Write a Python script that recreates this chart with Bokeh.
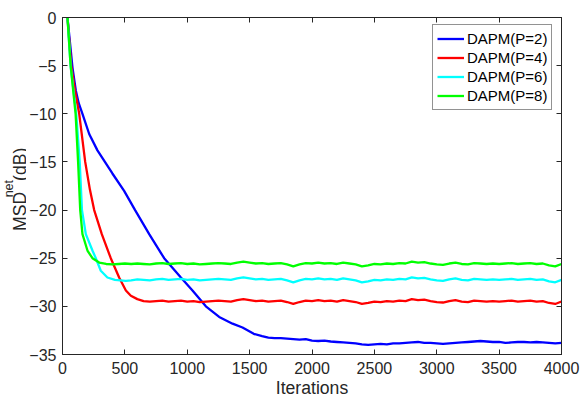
from bokeh.plotting import figure
from bokeh.layouts import row
from bokeh.models import Range1d, LinearAxis, FixedTicker, Label, CustomJSTickFormatter
from bokeh.embed import file_html
from bokeh.resources import INLINE
import math

# ---------------- data ----------------
series_names = ["DAPM(P=2)", "DAPM(P=4)", "DAPM(P=6)", "DAPM(P=8)"]
series_colors = ["#0000ff", "#ff0000", "#00ffff", "#00ff00"]

x_ticks = [0, 500, 1000, 1500, 2000, 2500, 3000, 3500, 4000]
y_ticks = [-35, -30, -25, -20, -15, -10, -5, 0]

tail_iters_600 = list(range(600, 4001, 50))
tail_iters_700 = list(range(700, 4001, 50))
tail_iters_1700 = list(range(1700, 4001, 50))

# P=2 (blue)
p2_x = [0, 40, 80, 107, 130, 160, 214, 280, 340, 400, 494, 582, 695, 815, 949,
        1042, 1149, 1256, 1363, 1443, 1533, 1600, 1650] + tail_iters_1700
p2_y = [4.5, 0, -5.2, -7.6, -8.9, -10, -12.1, -13.8, -15.0, -16.2, -18.0, -20, -22.5, -25, -27,
        -28.35, -30, -31.1, -31.8, -32.2, -32.85, -33.1, -33.25,
        -33.3, -33.3, -33.35, -33.4, -33.45, -33.4, -33.55, -33.6, -33.55, -33.65,
        -33.7, -33.75, -33.8, -33.85, -33.95, -34.0, -33.95, -33.9, -33.95, -33.85,
        -33.85, -33.8, -33.75, -33.7, -33.8, -33.8, -33.85, -33.9, -33.85, -33.8,
        -33.75, -33.7, -33.65, -33.6, -33.65, -33.7, -33.7, -33.8, -33.75, -33.7,
        -33.7, -33.75, -33.7, -33.75, -33.8, -33.85, -33.8]

# P=4 (red)
p4_x = [0, 40, 70, 100, 134, 182, 220, 254, 315, 387, 454, 508, 548, 600, 650] + tail_iters_700
p4_y = [4.5, 0, -5, -7.6, -10, -15, -17.9, -20, -22.5, -25, -27, -28.35, -28.9, -29.25, -29.45,
        -29.5, -29.45, -29.4, -29.5, -29.45, -29.4, -29.5, -29.45, -29.55, -29.5,
        -29.45, -29.4, -29.45, -29.5, -29.35, -29.25, -29.35, -29.45, -29.4, -29.5,
        -29.45, -29.4, -29.55, -29.75, -29.55, -29.4, -29.45, -29.35, -29.45, -29.4,
        -29.5, -29.35, -29.45, -29.55, -29.75, -29.65, -29.5, -29.55, -29.45, -29.5,
        -29.4, -29.45, -29.25, -29.35, -29.3, -29.45, -29.55, -29.6, -29.45, -29.35,
        -29.5, -29.55, -29.4, -29.45, -29.5, -29.45, -29.5, -29.45, -29.4, -29.5,
        -29.45, -29.4, -29.5, -29.45, -29.65, -29.75, -29.5]

# P=6 (cyan)
p6_x = [0, 40, 65, 110, 138, 156, 187, 240, 267, 307, 360, 420, 508, 550] + tail_iters_600
p6_y = [4.5, 0, -5, -10, -15, -20, -22.5, -24.2, -25.0, -26.3, -27.0, -27.25, -27.35, -27.3,
        -27.2, -27.25, -27.3, -27.2, -27.15, -27.25, -27.2, -27.15, -27.25, -27.2,
        -27.3, -27.25, -27.2, -27.15, -27.2, -27.25, -27.1, -27.0, -27.1, -27.2,
        -27.15, -27.25, -27.2, -27.15, -27.3, -27.5, -27.3, -27.15, -27.2, -27.1,
        -27.2, -27.15, -27.25, -27.1, -27.2, -27.3, -27.5, -27.4, -27.25, -27.3,
        -27.2, -27.25, -27.15, -27.2, -27.0, -27.1, -27.05, -27.2, -27.3, -27.35,
        -27.2, -27.1, -27.25, -27.3, -27.15, -27.2, -27.25, -27.2, -27.25, -27.2,
        -27.15, -27.25, -27.2, -27.15, -27.25, -27.2, -27.4, -27.5, -27.25]

# P=8 (green)
p8_x = [0, 40, 65, 105, 125, 142, 160, 200, 240, 294, 350, 400, 450, 500, 550] + tail_iters_600
p8_y = [4.5, 0, -5, -10, -15, -20, -22.5, -24.2, -25.0, -25.45, -25.6, -25.65, -25.6, -25.55, -25.6,
        -25.55, -25.6, -25.65, -25.55, -25.5, -25.6, -25.55, -25.5, -25.6, -25.55,
        -25.65, -25.6, -25.55, -25.5, -25.55, -25.6, -25.45, -25.35, -25.45, -25.55,
        -25.5, -25.6, -25.55, -25.5, -25.65, -25.85, -25.65, -25.5, -25.55, -25.45,
        -25.55, -25.5, -25.6, -25.45, -25.55, -25.65, -25.85, -25.75, -25.6, -25.65,
        -25.55, -25.6, -25.5, -25.55, -25.35, -25.45, -25.4, -25.55, -25.65, -25.7,
        -25.55, -25.45, -25.6, -25.65, -25.5, -25.55, -25.6, -25.55, -25.6, -25.55,
        -25.5, -25.6, -25.55, -25.5, -25.6, -25.55, -25.75, -25.85, -25.6]

series_x = [p2_x, p4_x, p6_x, p8_x]
series_y = [p2_y, p4_y, p6_y, p8_y]

x_title = "Iterations"
y_title_parts = ["MSD", "net", "(dB)"]

# ---------------- styling ----------------
FONT = "Liberation Sans"
INK = "#262626"
LABEL_W = 26
H = 401

# --- strip holding the rotated y title (MSD^net(dB)) ---
lab = figure(width=LABEL_W, height=H, output_backend="svg", toolbar_location=None,
             x_range=Range1d(0, LABEL_W), y_range=Range1d(0, H),
             x_axis_type=None, y_axis_type=None, min_border=0)
lab.grid.visible = False
lab.outline_line_color = None
lab.background_fill_color = "white"
lab.border_fill_color = "white"
# anchor positions of each rotated text piece, in strip pixels (y counted from bottom)
lab.add_layout(Label(x=9.1, y=H - 254, text=y_title_parts[0], angle=math.pi / 2,
                     text_align="left", text_baseline="top", text_font=FONT,
                     text_font_size="17.6px", text_color=INK))
lab.add_layout(Label(x=1.7, y=H - 214, text=y_title_parts[1], angle=math.pi / 2,
                     text_align="left", text_baseline="top", text_font=FONT,
                     text_font_size="12.5px", text_color=INK))
lab.add_layout(Label(x=9.1, y=H - 194.5, text=y_title_parts[2], angle=math.pi / 2,
                     text_align="left", text_baseline="top", text_font=FONT,
                     text_font_size="17.6px", text_color=INK))

# --- main plot ---
p = figure(width=581 - LABEL_W, height=H, output_backend="svg", toolbar_location=None,
           x_range=Range1d(0, 4000), y_range=Range1d(-35, 0),
           min_border_left=62 - LABEL_W, min_border_right=20, min_border_top=17,
           min_border_bottom=47)
p.background_fill_color = "white"
p.border_fill_color = "white"
p.grid.visible = False
p.outline_line_color = INK
p.outline_line_width = 1

for ax in (p.xaxis[0], p.yaxis[0]):
    ax.major_tick_in = 5
    ax.major_tick_out = 0
    ax.minor_tick_line_color = None
    ax.axis_line_color = INK
    ax.major_tick_line_color = INK
    ax.major_label_text_font = FONT
    ax.major_label_text_font_size = "16px"
    ax.major_label_text_color = INK
p.xaxis[0].ticker = FixedTicker(ticks=x_ticks)
p.yaxis[0].ticker = FixedTicker(ticks=y_ticks)
p.xaxis[0].major_label_standoff = 7
p.yaxis[0].major_label_standoff = 6
p.xaxis[0].axis_label = x_title
p.xaxis[0].axis_label_standoff = 1
p.xaxis[0].axis_label_text_font = FONT
p.xaxis[0].axis_label_text_font_size = "17.6px"
p.xaxis[0].axis_label_text_font_style = "normal"
p.xaxis[0].axis_label_text_color = INK

blank = CustomJSTickFormatter(code="return ''")
for loc, ticks in (("above", x_ticks), ("right", y_ticks)):
    a = LinearAxis(ticker=FixedTicker(ticks=ticks), major_tick_in=5, major_tick_out=0,
                   minor_tick_line_color=None, axis_line_color=INK, major_tick_line_color=INK,
                   formatter=blank, major_label_standoff=0)
    p.add_layout(a, loc)

for name, col, xs, ys in zip(series_names, series_colors, series_x, series_y):
    p.line(xs, ys, line_color=col, line_width=2.3, legend_label=name)

lg = p.legend[0]
lg.location = (370, 244)
lg.margin = 0
lg.padding = 4
lg.spacing = 0
lg.glyph_width = 27
lg.glyph_height = 19
lg.label_height = 19
lg.label_standoff = 3
lg.label_text_font = FONT
lg.label_text_font_size = "15px"
lg.label_text_color = "black"
lg.border_line_color = INK
lg.border_line_width = 1
lg.background_fill_color = "white"
lg.background_fill_alpha = 1.0

layout = row(lab, p, spacing=0)
open("out.html", "w").write(file_html(layout, INLINE))
